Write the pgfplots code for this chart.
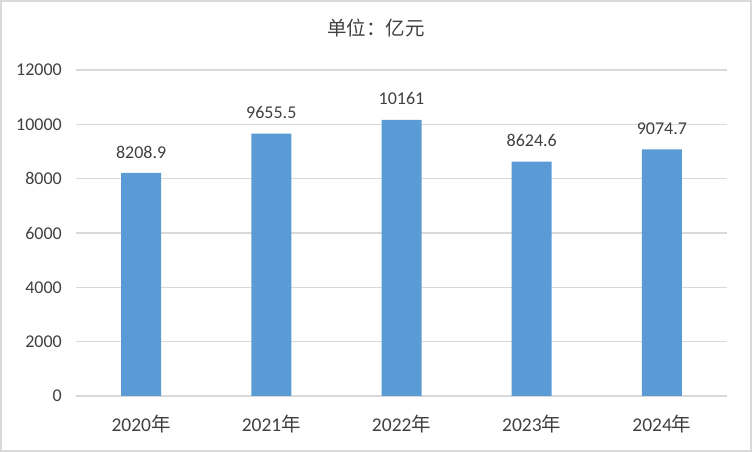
\documentclass[border=0pt]{standalone}
\usepackage{pgfplots}
\pgfplotsset{compat=1.18}
\usepackage{fontspec}
\setmainfont{Carlito}
\newfontfamily\cjk{Noto Sans CJK SC}
\definecolor{barblue}{HTML}{5B9BD5}
\definecolor{gridgray}{HTML}{D9D9D9}
\definecolor{txt}{HTML}{404040}
\begin{document}
\begin{tikzpicture}[x=1bp,y=1bp]
\path[use as bounding box] (0,0) rectangle (752,452);
\draw[gridgray, line width=2bp] (1,1) rectangle (751,451);
\node[txt, font=\cjk\fontsize{19.5bp}{22bp}\selectfont] at (376,424) {单位：亿元};
\begin{axis}[at={(76bp,56bp)}, anchor=south west, scale only axis,
  width=651bp, height=326bp,
  ymin=0, ymax=12000, ytick={0,2000,...,12000},
  xmin=-0.5, xmax=4.5, xtick={0,1,2,3,4},
  xticklabels={2020{\cjk 年},2021{\cjk 年},2022{\cjk 年},2023{\cjk 年},2024{\cjk 年}},
  axis line style={draw=none}, ymajorgrids,
  grid style={gridgray, line width=1.5bp},
  major tick length=0pt,
  /pgf/number format/assume math mode=true,
  /pgf/number format/1000 sep={},
  scaled y ticks=false,
  tick label style={txt, font=\fontsize{18bp}{20bp}\selectfont},
  yticklabel style={inner sep=0pt, anchor=east, xshift=-14bp},
  xticklabel style={inner sep=0pt, anchor=center, yshift=-28bp, font=\fontsize{19.5bp}{22bp}\selectfont},
  ybar, bar width=40bp,
  nodes near coords,
  point meta=explicit symbolic,
  nodes near coords style={txt, font=\fontsize{18bp}{20bp}\selectfont, inner sep=0pt, anchor=center, yshift=21bp},
  clip=false]
\addplot[fill=barblue, draw=none] table[meta=label] {
x y label
0 8208.9 8208.9
1 9655.5 9655.5
2 10161 10161
3 8624.6 8624.6
4 9074.7 9074.7
};
\end{axis}
\end{tikzpicture}
\end{document}
